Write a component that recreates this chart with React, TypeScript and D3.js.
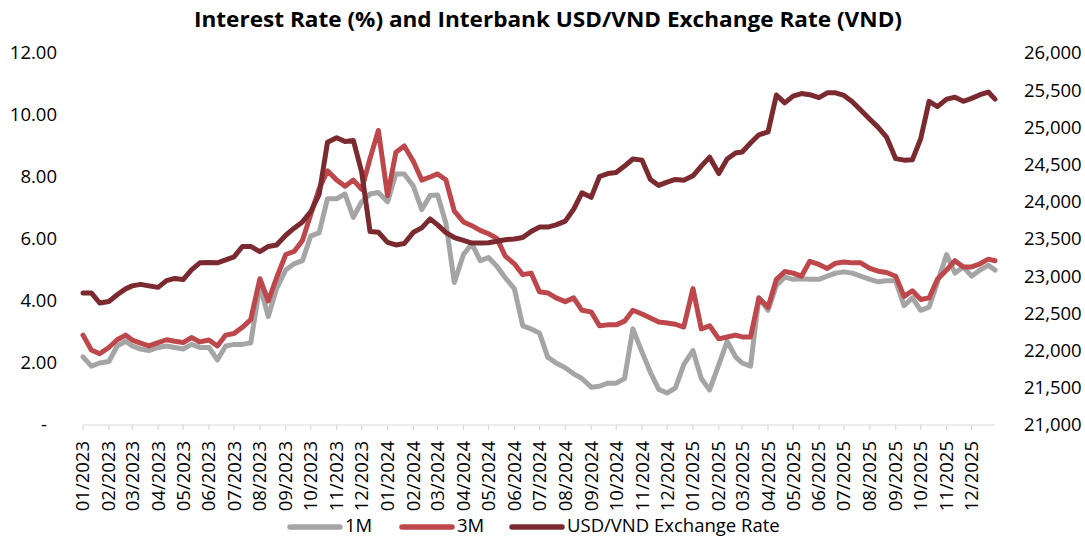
import { useRef, useEffect } from 'react';
import * as d3 from 'd3';

// Month tick labels on the date axis
const tickLabels = [
  '01/2023', '02/2023', '03/2023', '04/2023', '05/2023', '06/2023',
  '07/2023', '08/2023', '09/2023', '10/2023', '11/2023', '12/2023',
  '01/2024', '02/2024', '03/2024', '04/2024', '05/2024', '06/2024',
  '07/2024', '08/2024', '09/2024', '10/2024', '11/2024', '12/2024',
  '01/2025', '02/2025', '03/2025', '04/2025', '05/2025', '06/2025',
  '07/2025', '08/2025', '09/2025', '10/2025', '11/2025', '12/2025',
];

// readings taken on these days of every month, plus one last reading
const sampleDays = [1, 11, 21];
const lastDate = '2025-12-29';

// 1M interbank rate (%), one row per month
const rate1M = [
  2.2, 1.9, 2.0,
  2.05, 2.55, 2.7,
  2.55, 2.45, 2.4,
  2.5, 2.55, 2.5,
  2.45, 2.6, 2.5,
  2.5, 2.1, 2.55,
  2.6, 2.6, 2.65,
  4.5, 3.5, 4.4,
  5.0, 5.2, 5.3,
  6.1, 6.2, 7.3,
  7.3, 7.45, 6.7,
  7.2, 7.45, 7.5,
  7.2, 8.1, 8.1,
  7.7, 6.95, 7.4,
  7.42, 6.5, 4.6,
  5.5, 5.85, 5.3,
  5.4, 5.12, 4.75,
  4.4, 3.2, 3.1,
  2.97, 2.19, 2.0,
  1.85, 1.65, 1.5,
  1.22, 1.25, 1.35,
  1.35, 1.5, 3.1,
  2.35, 1.7, 1.15,
  1.03, 1.2, 1.95,
  2.4, 1.5, 1.13,
  1.95, 2.7, 2.2,
  2.0, 1.9, 4.1,
  3.7, 4.5, 4.77,
  4.7, 4.72, 4.7,
  4.7, 4.8, 4.9,
  4.94, 4.9, 4.8,
  4.7, 4.62, 4.65,
  4.65, 3.85, 4.1,
  3.7, 3.8, 4.6,
  5.5, 4.9, 5.1,
  4.8, 5.0, 5.15,
  5.0,
];

// 3M interbank rate (%)
const rate3M = [
  2.9, 2.42, 2.3,
  2.5, 2.75, 2.9,
  2.74, 2.64, 2.55,
  2.66, 2.75, 2.7,
  2.66, 2.82, 2.68,
  2.74, 2.55, 2.9,
  2.95, 3.15, 3.4,
  4.72, 4.0, 4.75,
  5.5, 5.6, 5.95,
  6.8, 7.62, 8.2,
  7.9, 7.7, 7.9,
  7.6, 8.6, 9.5,
  7.4, 8.8, 9.0,
  8.5, 7.9, 8.0,
  8.1, 7.9, 6.9,
  6.55, 6.43, 6.28,
  6.17, 6.02, 5.45,
  5.2, 4.85, 4.9,
  4.3, 4.26, 4.1,
  3.98, 4.1, 3.7,
  3.65, 3.2, 3.23,
  3.23, 3.35, 3.7,
  3.58, 3.45, 3.32,
  3.29, 3.25, 3.16,
  4.4, 3.1, 3.2,
  2.78, 2.84, 2.9,
  2.84, 2.84, 4.1,
  3.8, 4.7, 4.95,
  4.9, 4.8, 5.28,
  5.18, 5.05, 5.22,
  5.26, 5.23, 5.23,
  5.05, 4.96, 4.92,
  4.8, 4.15, 4.33,
  4.05, 4.1, 4.7,
  5.0, 5.3, 5.1,
  5.1, 5.2, 5.35,
  5.3,
];

// Interbank USD/VND (VND)
const usdVnd = [
  22775, 22775, 22640,
  22660, 22750, 22830,
  22870, 22890, 22870,
  22850, 22940, 22970,
  22955, 23085, 23180,
  23185, 23180, 23220,
  23260, 23400, 23400,
  23330, 23400, 23420,
  23550, 23645, 23730,
  23870, 24100, 24800,
  24860, 24810, 24825,
  24400, 23600, 23590,
  23455, 23420, 23440,
  23590, 23650, 23770,
  23690, 23585, 23520,
  23480, 23445, 23445,
  23450, 23470, 23490,
  23500, 23520, 23600,
  23660, 23660, 23690,
  23740, 23900, 24120,
  24060, 24340, 24380,
  24395, 24480, 24575,
  24560, 24300, 24220,
  24265, 24300, 24290,
  24350, 24480, 24600,
  24380, 24575, 24655,
  24670, 24790, 24900,
  24940, 25435, 25330,
  25420, 25455, 25440,
  25400, 25465, 25465,
  25430, 25345, 25235,
  25110, 25000, 24870,
  24580, 24560, 24565,
  24850, 25350, 25280,
  25380, 25405, 25350,
  25390, 25440, 25475,
  25380,
];

const seriesNames = ['1M', '3M', 'USD/VND Exchange Rate'];
const seriesColors = ['#a5a5a5', '#be474b', '#7b2a30'];

const FONT = '"Open Sans", sans-serif';

function parseLabel(lbl: string) {
  const [mm, yyyy] = lbl.split('/');
  return new Date(+yyyy, +mm - 1, 1);
}

export default function App() {
  const svgRef = useRef<SVGSVGElement | null>(null);
  const width = 1085;
  const height = 537;

  useEffect(() => {
    const svg = d3.select(svgRef.current);
    svg.selectAll('*').remove();

    const monthStarts = tickLabels.map(parseLabel);
    const endDate = d3.timeParse('%Y-%m-%d')(lastDate) as Date;
    const dates = monthStarts
      .flatMap(function (m) {
        return sampleDays.map(function (d) { return new Date(m.getFullYear(), m.getMonth(), d); });
      })
      .concat([endDate]);

    const x = d3.scaleTime().domain([monthStarts[0], endDate]).range([83, 995]);
    const yL = d3.scaleLinear().domain([0, 12]).range([425, 53]);
    const yR = d3.scaleLinear().domain([21000, 26000]).range([425, 53]);

    // Title
    svg.append('text')
      .attr('x', 548)
      .attr('y', 27)
      .attr('text-anchor', 'middle')
      .attr('font-family', FONT)
      .attr('font-weight', 700)
      .attr('font-size', 22)
      .attr('textLength', 708)
      .attr('lengthAdjust', 'spacingAndGlyphs')
      .attr('fill', '#000')
      .text('Interest Rate (%) and Interbank USD/VND Exchange Rate (VND)');

    // Left axis labels
    svg.append('g')
      .selectAll('text')
      .data(yL.ticks(6))
      .join('text')
      .attr('x', function (d) { return d === 0 ? 47 : 57; })
      .attr('y', function (d) { return yL(d); })
      .attr('dy', '0.35em')
      .attr('text-anchor', 'end')
      .attr('font-family', FONT)
      .attr('font-size', 18.5)
      .attr('fill', '#000')
      .text(function (d) { return d === 0 ? '-' : d3.format('.2f')(d); });

    // Right axis labels
    svg.append('g')
      .selectAll('text')
      .data(yR.ticks(10))
      .join('text')
      .attr('x', 1024)
      .attr('y', function (d) { return yR(d); })
      .attr('dy', '0.35em')
      .attr('text-anchor', 'start')
      .attr('font-family', FONT)
      .attr('font-size', 18.5)
      .attr('fill', '#000')
      .text(function (d) { return d3.format(',')(d); });

    // Date axis
    const gx = svg.append('g');
    gx.append('line')
      .attr('x1', x.range()[0]).attr('x2', x.range()[1])
      .attr('y1', 425).attr('y2', 425)
      .attr('stroke', '#d9d9d9').attr('stroke-width', 1.2);
    gx.selectAll('line.tick')
      .data(monthStarts)
      .join('line')
      .attr('class', 'tick')
      .attr('x1', function (d) { return x(d); })
      .attr('x2', function (d) { return x(d); })
      .attr('y1', 425).attr('y2', 430)
      .attr('stroke', '#d9d9d9').attr('stroke-width', 1.2);
    gx.selectAll('text')
      .data(tickLabels)
      .join('text')
      .attr('transform', function (d) { return 'translate(' + x(parseLabel(d)) + ',441) rotate(-90)'; })
      .attr('dy', '0.35em')
      .attr('text-anchor', 'end')
      .attr('font-family', FONT)
      .attr('font-size', 18.5)
      .attr('fill', '#000')
      .text(function (d) { return d; });

    // Series (1M, 3M on left axis; exchange rate on right axis)
    const seriesData = [rate1M, rate3M, usdVnd];
    const scales = [yL, yL, yR];
    seriesData.forEach(function (vals, i) {
      const pts = vals.map(function (v, j) { return [dates[j], v] as [Date, number]; });
      const line = d3.line<[Date, number]>()
        .x(function (d) { return x(d[0]); })
        .y(function (d) { return scales[i](d[1]); });
      svg.append('path')
        .attr('d', line(pts))
        .attr('fill', 'none')
        .attr('stroke', seriesColors[i])
        .attr('stroke-width', 5)
        .attr('stroke-linejoin', 'round')
        .attr('stroke-linecap', 'round');
    });

    // Legend
    const legendX = [290, 402, 512];
    const lg = svg.append('g');
    seriesNames.forEach(function (name, i) {
      lg.append('line')
        .attr('x1', legendX[i]).attr('x2', legendX[i] + 50)
        .attr('y1', 527).attr('y2', 527)
        .attr('stroke', seriesColors[i])
        .attr('stroke-width', 5.5)
        .attr('stroke-linecap', 'round');
      lg.append('text')
        .attr('x', legendX[i] + 55)
        .attr('y', 532)
        .attr('font-family', FONT)
        .attr('font-size', 18.5)
        .attr('fill', '#000')
        .text(name);
    });
  }, []);

  return (
    <svg
      ref={svgRef}
      width={width}
      height={height}
      style={{ position: 'absolute', left: 0, top: 0, background: '#fff' }}
    />
  );
}
